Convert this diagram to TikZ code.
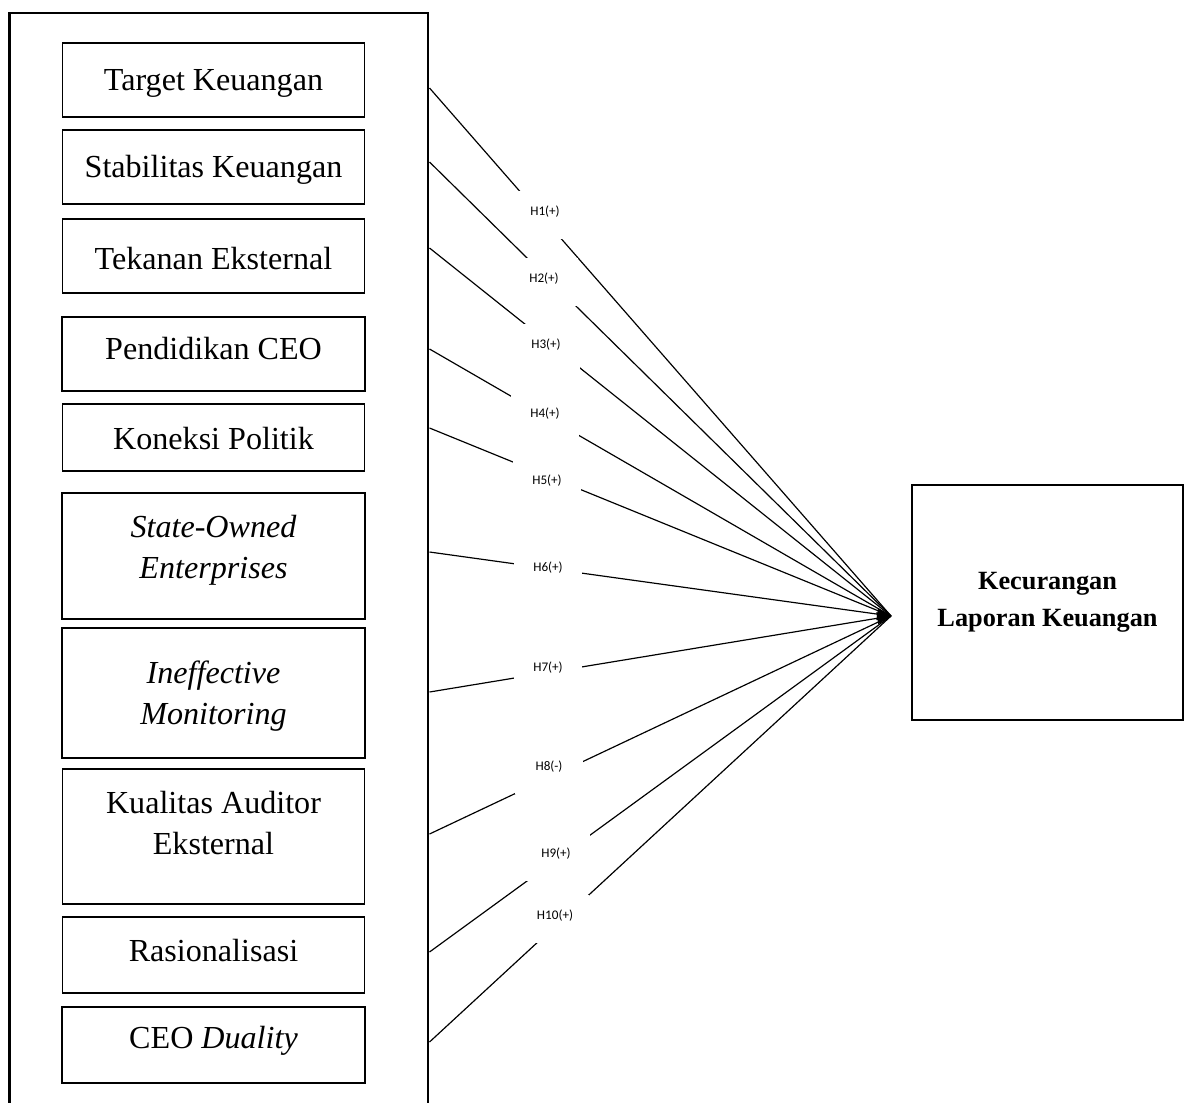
\documentclass[tikz,border=0pt]{standalone}
\usepackage{fontspec}
\setmainfont{Liberation Serif}
\newfontfamily\calib{Carlito}
\usetikzlibrary{arrows.meta}

\tikzset{
	varbox/.style={draw, minimum width=115.1pt, inner sep=0pt},
	heavy/.style={line width=0.75pt},
	vartext/.style={align=center, font=\fontsize{12.2}{15.7}\selectfont},
	hyp/.style={fill=white, minimum width=25.8pt, minimum height=18.2pt, inner sep=0pt,
		text height=2pt, text depth=2pt, font=\calib\fontsize{5}{6}\selectfont},
	conn/.style={line width=0.45pt},
}

\begin{document}
\begin{tikzpicture}[x=0.38pt,y=-0.38pt]
	\useasboundingbox (0,0) rectangle (1184,1102);

	% frame round the variables
	\draw[line width=0.95pt] (9.6,1110) -- (9.6,13) -- (428,13) -- (428,1110);

	\foreach \nm/\ya/\yb/\ty/\lw/\txt in {
		target/43/117/83/thin/{Target Keuangan},
		stabil/130/204/170/thin/{Stabilitas Keuangan},
		tekanan/219/293/259/thin/{Tekanan Eksternal},
		pendidikan/317/391/349/heavy/{Pendidikan CEO},
		koneksi/404/471/439/thin/{Koneksi Politik},
		soe/493/619/550/heavy/{\textit{State-Owned}\\\textit{Enterprises}},
		ineff/628/758/696/heavy/{\textit{Ineffective}\\\textit{Monitoring}},
		auditor/769/904/823/thin/{Kualitas Auditor\\Eksternal},
		rasio/917/993/950/thin/{Rasionalisasi},
		duality/1007/1083/1041/heavy/{CEO \textit{Duality}}%
	}{
		\node[varbox,\lw,minimum height={(\yb-\ya)*0.38pt}] (\nm) at (213.5,{(\ya+\yb)/2}) {};
		\node[vartext] (\nm-txt) at (213.5,\ty) {\txt};
	}

	\node[draw, line width=0.6pt, minimum width=103pt, minimum height=89.3pt, align=center,
		font=\bfseries\fontsize{10}{14}\selectfont] (klk) at (1047.5,602.5) {Kecurangan\\Laporan Keuangan};

	\coordinate (tip) at (891,616);
	\foreach \i/\y in {1/88,2/162,3/248,4/349,5/428,6/552,7/692,8/834,9/952,10/1042}{
		\coordinate (s\i) at (429.5,\y);
	}

	\foreach \i in {1,2,3,4,5,8,9,10}{
		\draw[conn] (s\i) -- (tip);
	}
	\draw[conn,-{Triangle[length=5.3pt,width=4.6pt]}] (s6) -- (tip);
	\draw[conn,-{Triangle[length=5.3pt,width=4.6pt]}] (s7) -- (tip);

	% hypothesis labels
	\foreach \i/\x/\y/\s in {1/545/215/+,2/544/282/+,3/546/348/+,4/545/417/+,5/547/484/+,
		6/548/571/+,7/548/671/+,8/549/770/-,9/556/857/+,10/555/919/+}{
		\node[hyp] (h\i) at (\x,\y) {H\i(\s)};
	}
\end{tikzpicture}
\end{document}
